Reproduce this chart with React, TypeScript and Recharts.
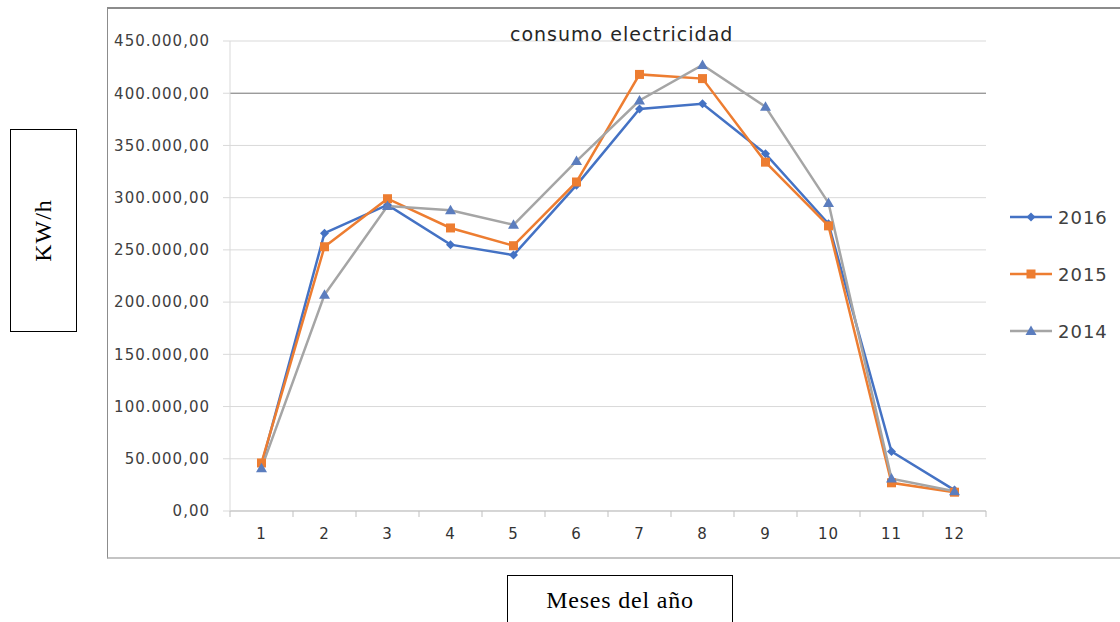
import { LineChart, Line, XAxis, YAxis, CartesianGrid, Legend, ReferenceLine } from 'recharts';

// consumo mensual (kWh)
const months = [1, 2, 3, 4, 5, 6, 7, 8, 9, 10, 11, 12];
const consumo2016 = [44000, 266000, 293000, 255000, 245000, 312000, 385000, 390000, 342000, 275000, 57000, 20000];
const consumo2015 = [46000, 253000, 299000, 271000, 254000, 315000, 418000, 414000, 334000, 273000, 27000, 18000];
const consumo2014 = [41000, 207000, 292000, 288000, 274000, 335000, 393000, 427000, 387000, 295000, 31000, 19000];
const yTicks = [0, 50000, 100000, 150000, 200000, 250000, 300000, 350000, 400000, 450000];
const seriesNames = ['2016', '2015', '2014'];
const seriesColors = ['#4472C4', '#ED7D31', '#A5A5A5'];

const title = 'consumo electricidad';
const yLabel = 'KW/h';
const xLabel = 'Meses del año';

const data = months.map((m, i) => ({
  month: m,
  '2016': consumo2016[i],
  '2015': consumo2015[i],
  '2014': consumo2014[i],
}));

// ticks at month centres (labels) and band edges (tick marks)
const xTicks = [...months.map((m) => m - 0.5), 12.5, ...months].sort((a, b) => a - b);

const sans = '"DejaVu Sans", "Noto Sans", sans-serif';
const serif = '"Liberation Serif", "Times New Roman", serif';

const formatEs = (v: number) => {
  const s = Math.round(v).toString().replace(/\B(?=(\d{3})+(?!\d))/g, '.');
  return s + ',00';
};

const Diamond = (p: any) => {
  const { cx, cy } = p;
  if (cx == null || cy == null) return <g />;
  return <path d={`M${cx},${cy - 4.5}L${cx + 4.5},${cy}L${cx},${cy + 4.5}L${cx - 4.5},${cy}Z`} fill="#4472C4" />;
};
const Square = (p: any) => {
  const { cx, cy } = p;
  if (cx == null || cy == null) return <g />;
  return <rect x={cx - 4.5} y={cy - 4.5} width={9} height={9} fill="#ED7D31" />;
};
const Triangle = (p: any) => {
  const { cx, cy } = p;
  if (cx == null || cy == null) return <g />;
  return <path d={`M${cx},${cy - 5.5}L${cx + 5.5},${cy + 4}L${cx - 5.5},${cy + 4}Z`} fill="#5B7DBE" />;
};
const markers = [Diamond, Square, Triangle];

const XTick = (props: any) => {
  const { x, y, payload } = props;
  const v = payload.value;
  if (Number.isInteger(v)) {
    return (
      <text x={x} y={y + 28} textAnchor="middle" fill="#333" fontSize={15} fontFamily={sans} letterSpacing={1}>
        {v}
      </text>
    );
  }
  return <line x1={x} y1={y} x2={x} y2={y + 6} stroke="#bfbfbf" />;
};

const LegendBox = () => (
  <div style={{ display: 'flex', flexDirection: 'column', gap: 37 }}>
    {seriesNames.map((name, i) => {
      const Marker = markers[i];
      return (
        <div key={name} style={{ display: 'flex', alignItems: 'center', height: 20 }}>
          <svg width={48} height={20}>
            <line x1={0} y1={10} x2={42} y2={10} stroke={seriesColors[i]} strokeWidth={2.5} />
            <Marker cx={21} cy={10} />
          </svg>
          <span style={{ fontFamily: sans, fontSize: 18, color: '#404040', letterSpacing: 1 }}>{name}</span>
        </div>
      );
    })}
  </div>
);

export default function App() {
  return (
    <div style={{ position: 'fixed', left: 0, top: 0, width: 1120, height: 622, overflow: 'hidden', background: '#fff' }}>
      {/* chart frame, open to the right */}
      <div
        style={{
          position: 'absolute',
          left: 107,
          top: 7,
          width: 1100,
          height: 548,
          borderTop: '2px solid #8c8c8c',
          borderLeft: '1.5px solid #8c8c8c',
          borderBottom: '2px solid #c4c4c4',
        }}
      />
      <div style={{ position: 'absolute', left: 108, top: 8 }}>
        <LineChart width={1012} height={548} data={data} margin={{ top: 33, right: 24, bottom: 0, left: 0 }}>
          <CartesianGrid vertical={false} stroke="#d9d9d9" />
          <XAxis
            dataKey="month"
            type="number"
            domain={[0.5, 12.5]}
            ticks={xTicks}
            interval={0}
            tickLine={false}
            tickSize={0}
            tickMargin={0}
            height={45}
            axisLine={{ stroke: '#bfbfbf' }}
            tick={<XTick />}
          />
          <YAxis
            domain={[0, 450000]}
            ticks={yTicks}
            width={122}
            tickFormatter={formatEs}
            tickSize={7}
            tickMargin={13}
            tickLine={{ stroke: '#d9d9d9' }}
            axisLine={{ stroke: '#d9d9d9' }}
            tick={{ fill: '#404040', fontSize: 15, fontFamily: sans, letterSpacing: 1 }}
          />
          <ReferenceLine y={400000} stroke="#808080" />
          <Legend
            layout="vertical"
            align="right"
            verticalAlign="middle"
            content={() => <LegendBox />}
            wrapperStyle={{ left: 902, top: 199, width: 110, height: 160 }}
          />
          {seriesNames.map((name, i) => (
            <Line
              key={name}
              type="linear"
              dataKey={name}
              stroke={seriesColors[i]}
              strokeWidth={2.5}
              dot={markers[i]}
              activeDot={false}
              isAnimationActive={false}
            />
          ))}
        </LineChart>
      </div>
      <div
        style={{
          position: 'absolute',
          left: 510,
          top: 23,
          fontFamily: sans,
          fontSize: 19,
          color: '#262626',
          letterSpacing: 1,
          whiteSpace: 'nowrap',
        }}
      >
        {title}
      </div>
      {/* y axis title box */}
      <div
        style={{
          position: 'absolute',
          left: 10,
          top: 129,
          width: 65,
          height: 201,
          border: '1.5px solid #000',
          display: 'flex',
          alignItems: 'center',
          justifyContent: 'center',
        }}
      >
        <div style={{ transform: 'rotate(-90deg)', fontFamily: serif, fontSize: 24, letterSpacing: 1, whiteSpace: 'nowrap' }}>
          {yLabel}
        </div>
      </div>
      {/* x axis title box */}
      <div
        style={{
          position: 'absolute',
          left: 507,
          top: 575,
          width: 226,
          height: 60,
          border: '1.5px solid #000',
          fontFamily: serif,
          fontSize: 24,
          letterSpacing: 0.8,
          textAlign: 'center',
          paddingTop: 11,
          boxSizing: 'border-box',
          whiteSpace: 'nowrap',
        }}
      >
        {xLabel}
      </div>
    </div>
  );
}
